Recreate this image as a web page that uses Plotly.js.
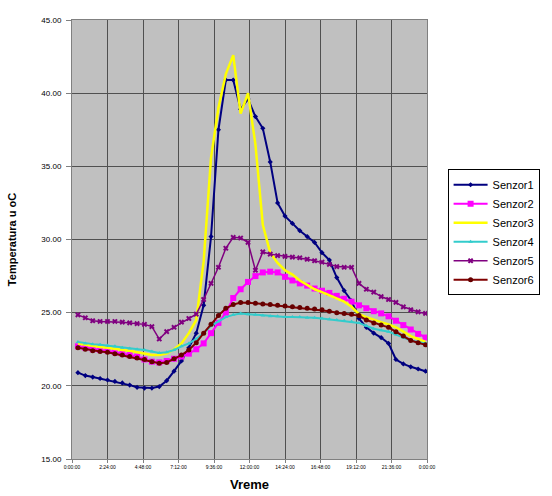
<!DOCTYPE html>
<html>
<head>
<meta charset="utf-8">
<script src="https://cdn.plot.ly/plotly-3.0.1.min.js"></script>
<style>html,body{margin:0;padding:0;background:#fff;}#chart{width:552px;height:496px;}</style>
</head>
<body>
<div id="chart"></div>
<script>
// time of day in hours
const hours = [0.4,0.9,1.4,1.9,2.4,2.9,3.4,3.9,4.4,4.9,5.4,5.9,6.4,6.9,7.4,7.9,8.4,8.9,9.4,9.9,10.4,10.9,11.4,11.9,12.4,12.9,13.4,13.9,14.4,14.9,15.4,15.9,16.4,16.9,17.4,17.9,18.4,18.9,19.4,19.9,20.4,20.9,21.4,21.9,22.4,22.9,23.4,23.9];

const senzor1 = [20.9,20.7,20.6,20.5,20.4,20.3,20.2,20.05,19.9,19.85,19.85,19.95,20.35,21.0,21.7,22.6,23.6,25.5,30.2,37.5,40.9,40.9,38.9,39.6,38.4,37.6,35.3,32.5,31.6,31.1,30.6,30.2,29.8,29.1,28.6,27.4,26.5,25.8,24.6,24.0,23.6,23.3,22.9,21.8,21.5,21.3,21.15,21.0];
const senzor2 = [22.7,22.6,22.5,22.45,22.4,22.3,22.2,22.1,22.0,21.8,21.65,21.6,21.7,21.85,22.0,22.2,22.5,22.9,23.6,24.3,25.0,26.0,26.6,27.1,27.5,27.75,27.8,27.75,27.45,27.2,27.0,26.85,26.65,26.5,26.35,26.15,25.95,25.75,25.5,25.3,25.1,24.95,24.75,24.45,24.15,23.85,23.55,23.3];
const senzor3 = [22.9,22.8,22.7,22.65,22.6,22.5,22.45,22.4,22.3,22.2,22.1,22.1,22.2,22.5,22.9,23.6,24.5,28.5,35.6,39.0,41.3,42.6,38.6,40.0,36.5,31.0,29.1,28.4,27.9,27.6,27.2,26.9,26.6,26.4,26.2,26.0,25.75,25.4,24.9,24.7,24.5,24.35,24.2,24.0,23.7,23.4,23.2,23.0];
const senzor4 = [23.0,22.9,22.85,22.8,22.75,22.7,22.6,22.55,22.5,22.45,22.35,22.25,22.3,22.45,22.7,22.9,23.2,23.6,24.1,24.4,24.7,24.85,24.95,24.9,24.85,24.8,24.75,24.75,24.7,24.7,24.7,24.65,24.65,24.6,24.55,24.5,24.45,24.4,24.3,24.1,23.9,23.8,23.7,23.5,23.3,23.1,23.0,22.9];
const senzor5 = [24.85,24.65,24.45,24.4,24.4,24.4,24.35,24.3,24.25,24.2,24.05,23.2,23.7,24.0,24.35,24.6,24.9,25.9,27.0,28.1,29.4,30.15,30.1,29.8,27.9,29.15,29.0,28.9,28.85,28.8,28.75,28.65,28.55,28.45,28.3,28.15,28.1,28.1,27.0,26.6,26.4,26.1,25.9,25.7,25.4,25.2,25.05,24.95];
const senzor6 = [22.6,22.5,22.4,22.35,22.3,22.2,22.1,22.0,21.9,21.8,21.65,21.55,21.6,21.85,22.1,22.45,22.95,23.6,24.2,24.8,25.3,25.55,25.7,25.7,25.65,25.6,25.55,25.5,25.45,25.4,25.35,25.3,25.25,25.2,25.1,25.0,24.95,24.9,24.8,24.5,24.3,24.15,24.0,23.7,23.4,23.1,22.95,22.8];

const tickVals = [0,2.4,4.8,7.2,9.6,12,14.4,16.8,19.2,21.6,24];
const tickLabels = ["0:00:00","2:24:00","4:48:00","7:12:00","9:36:00","12:00:00","14:24:00","16:48:00","19:12:00","21:36:00","0:00:00"];
const seriesNames = ["Senzor1","Senzor2","Senzor3","Senzor4","Senzor5","Senzor6"];

const data = [
  {x: hours, y: senzor1, name: seriesNames[0], mode: 'lines+markers',
   line: {color: '#000080', width: 2}, marker: {symbol: 'diamond', size: 4, color: '#000080'}},
  {x: hours, y: senzor2, name: seriesNames[1], mode: 'lines+markers',
   line: {color: '#ff00ff', width: 2}, marker: {symbol: 'square', size: 6, color: '#ff00ff'}},
  {x: hours, y: senzor3, name: seriesNames[2], mode: 'lines',
   line: {color: '#ffff00', width: 2.5}},
  {x: hours, y: senzor4, name: seriesNames[3], mode: 'lines+markers',
   line: {color: '#33cccc', width: 2}, marker: {symbol: 'triangle-up', size: 4, color: '#33cccc'}},
  {x: hours, y: senzor5, name: seriesNames[4], mode: 'lines+markers',
   line: {color: '#800080', width: 1.5}, marker: {symbol: 'x', size: 5, color: '#800080'}},
  {x: hours, y: senzor6, name: seriesNames[5], mode: 'lines+markers',
   line: {color: '#800000', width: 2}, marker: {symbol: 'circle', size: 5, color: '#660000'}}
];

const layout = {
  width: 552, height: 496,
  margin: {l: 72, r: 120, t: 20, b: 37},
  paper_bgcolor: '#ffffff',
  plot_bgcolor: '#c0c0c0',
  font: {family: 'Liberation Sans, Arial, sans-serif', color: '#000'},
  showlegend: true,
  legend: {x: 1.058, y: 0.66, xanchor: 'left', yanchor: 'top',
    bgcolor: '#ffffff', bordercolor: '#000', borderwidth: 1,
    font: {size: 11, color: '#000'}, tracegroupgap: 0, itemwidth: 34},
  xaxis: {
    range: [0, 24], tickmode: 'array', tickvals: tickVals, ticktext: tickLabels,
    tickfont: {size: 5}, showgrid: true, gridcolor: '#505050', gridwidth: 1,
    zeroline: false, showline: true, linecolor: '#808080', mirror: true,
    ticks: 'outside', ticklen: 3, tickcolor: '#808080',
    title: {text: 'Vreme', font: {size: 13, weight: 'bold'}, standoff: 10}
  },
  yaxis: {
    range: [15, 45], tickmode: 'array', tickvals: [15,20,25,30,35,40,45],
    tickformat: '.2f', tickfont: {size: 8}, showgrid: true, gridcolor: '#505050', gridwidth: 1,
    zeroline: false, showline: true, linecolor: '#808080', mirror: true,
    ticks: 'outside', ticklen: 5, tickcolor: '#808080', ticklabelstandoff: 3,
    title: {text: 'Temperatura u oC', font: {size: 11, weight: 'bold'}, standoff: 22}
  }
};

Plotly.newPlot('chart', data, layout, {displayModeBar: false, staticPlot: true});
</script>
</body>
</html>
